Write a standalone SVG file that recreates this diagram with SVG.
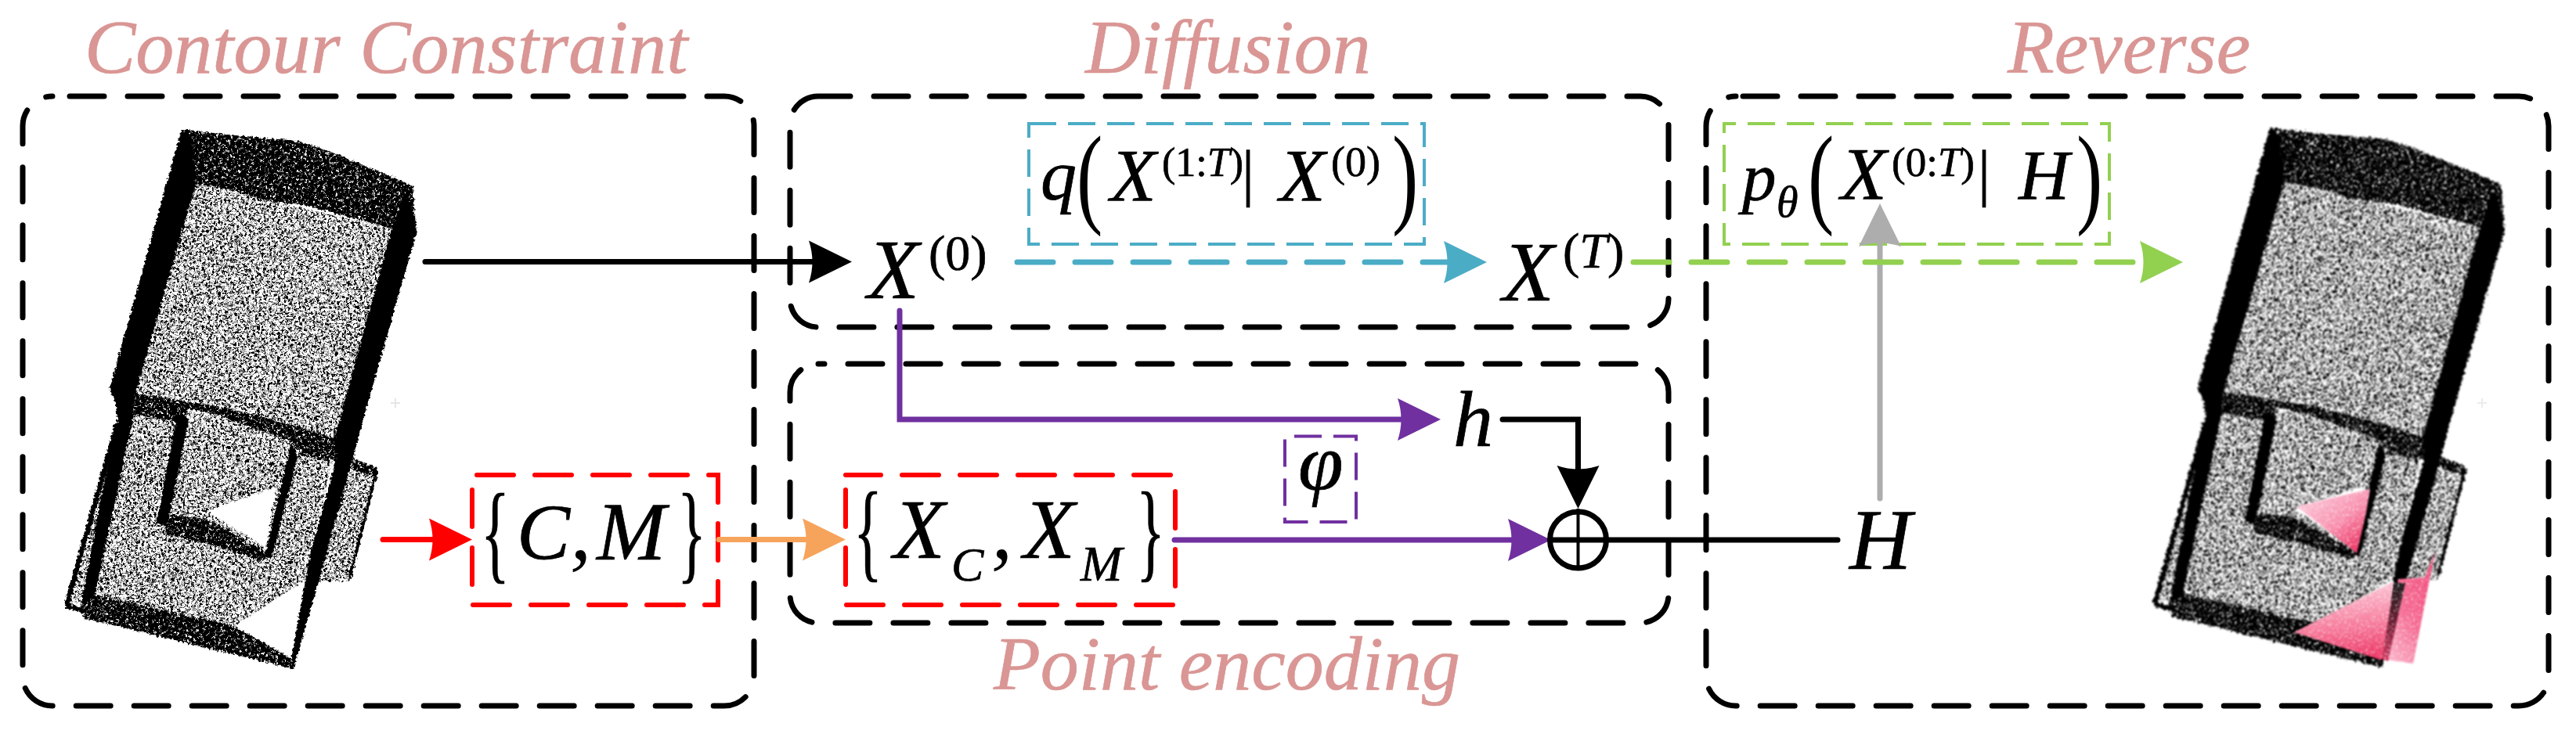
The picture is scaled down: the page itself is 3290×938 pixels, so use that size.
<svg xmlns="http://www.w3.org/2000/svg" xmlns:xlink="http://www.w3.org/1999/xlink" width="3290" height="938" viewBox="0 0 3290 938">
<style>
text{font-family:"Liberation Serif","Times New Roman",serif;font-style:italic;fill:#000;stroke:#000;stroke-width:.7}
.title{font-size:98px;fill:#D99694;stroke:#D99694;stroke-width:.6}
.up{font-style:normal}
.frame{fill:none;stroke:#000;stroke-width:7;stroke-dasharray:44 30;stroke-linecap:round}
.red{fill:none;stroke:#F00;stroke-width:6;stroke-dasharray:47 27;stroke-linecap:round}
.thin{fill:none;stroke-width:4;stroke-dasharray:35 15}
.ln{fill:none;stroke-width:7;stroke-linecap:round}
.dash{stroke-dasharray:46 28}
.k{fill:#000}
.w{fill:#fff}
</style>
<defs>
<filter id="grainL" filterUnits="userSpaceOnUse" x="0" y="100" width="3290" height="800" color-interpolation-filters="sRGB">
<feTurbulence type="fractalNoise" baseFrequency="0.38" numOctaves="1" seed="4" result="n"/>
<feColorMatrix in="n" type="matrix" values="6 0 0 0 -2.25  6 0 0 0 -2.25  6 0 0 0 -2.25  0 0 0 0 1" result="c"/>
<feComposite in="c" in2="SourceAlpha" operator="in"/>
</filter>
<filter id="grainD" filterUnits="userSpaceOnUse" x="0" y="100" width="3290" height="800" color-interpolation-filters="sRGB">
<feTurbulence type="fractalNoise" baseFrequency="0.38" numOctaves="1" seed="9" result="n"/>
<feColorMatrix in="n" type="matrix" values="7 0 0 0 -3.9  7 0 0 0 -3.9  7 0 0 0 -3.9  0 0 0 0 1" result="c"/>
<feComposite in="c" in2="SourceAlpha" operator="in"/>
</filter>
<filter id="rough" filterUnits="userSpaceOnUse" x="0" y="100" width="3290" height="800" color-interpolation-filters="sRGB">
<feTurbulence type="fractalNoise" baseFrequency="0.3" numOctaves="2" seed="2" result="n"/>
<feDisplacementMap in="SourceGraphic" in2="n" scale="6" xChannelSelector="R" yChannelSelector="G"/>
</filter>
<filter id="soft" filterUnits="userSpaceOnUse" x="0" y="100" width="3290" height="800" color-interpolation-filters="sRGB">
<feTurbulence type="fractalNoise" baseFrequency="0.3" numOctaves="2" seed="7" result="n"/>
<feDisplacementMap in="SourceGraphic" in2="n" scale="7" xChannelSelector="R" yChannelSelector="G" result="d"/>
<feGaussianBlur in="d" stdDeviation="0.9"/>
</filter>
<filter id="pinkN" filterUnits="userSpaceOnUse" x="2800" y="500" width="400" height="400" color-interpolation-filters="sRGB">
<feTurbulence type="fractalNoise" baseFrequency="0.4" numOctaves="1" seed="5" result="n"/>
<feColorMatrix in="n" type="matrix" values="0 0 0 0 1  0 0 0 0 1  0 0 0 0 1  3 0 0 0 -1.6" result="c"/>
<feComposite in="c" in2="SourceAlpha" operator="in" result="s"/>
<feMerge result="m"><feMergeNode in="SourceGraphic"/><feMergeNode in="s"/></feMerge>
<feGaussianBlur in="m" stdDeviation="1.2"/>
</filter>
<linearGradient id="pk1" x1="0.1" y1="0.2" x2="0.75" y2="0.95"><stop offset="0" stop-color="#fbc6d6"/><stop offset="0.55" stop-color="#f88fae"/><stop offset="1" stop-color="#ec3a68"/></linearGradient>
<linearGradient id="pk2" x1="0.55" y1="0.05" x2="0.7" y2="1"><stop offset="0" stop-color="#fbc6d6"/><stop offset="0.5" stop-color="#f7809f"/><stop offset="1" stop-color="#ec3565"/></linearGradient>
<linearGradient id="pk3" x1="0.9" y1="0" x2="0.2" y2="1"><stop offset="0" stop-color="#f24a7a"/><stop offset="0.6" stop-color="#f56d94"/><stop offset="1" stop-color="#fab0c6"/></linearGradient>
<linearGradient id="pkB" x1="0" y1="0" x2="0" y2="1"><stop offset="0" stop-color="#1a1a1a"/><stop offset="0.5" stop-color="#6a1a30"/><stop offset="1" stop-color="#d83a64"/></linearGradient>
<marker id="aK" markerUnits="userSpaceOnUse" markerWidth="60" markerHeight="60" refX="6" refY="30" orient="auto" overflow="visible"><path d="M0 3L55 30L0 57Q9 30 0 3Z" fill="#000"/></marker>
<marker id="aR" markerUnits="userSpaceOnUse" markerWidth="60" markerHeight="60" refX="6" refY="30" orient="auto" overflow="visible"><path d="M0 3L55 30L0 57Q9 30 0 3Z" fill="#F00"/></marker>
<marker id="aO" markerUnits="userSpaceOnUse" markerWidth="60" markerHeight="60" refX="6" refY="30" orient="auto" overflow="visible"><path d="M0 3L55 30L0 57Q9 30 0 3Z" fill="#F6A45C"/></marker>
<marker id="aB" markerUnits="userSpaceOnUse" markerWidth="60" markerHeight="60" refX="6" refY="30" orient="auto" overflow="visible"><path d="M0 3L55 30L0 57Q9 30 0 3Z" fill="#4BACC6"/></marker>
<marker id="aG" markerUnits="userSpaceOnUse" markerWidth="60" markerHeight="60" refX="6" refY="30" orient="auto" overflow="visible"><path d="M0 3L55 30L0 57Q9 30 0 3Z" fill="#92D050"/></marker>
<marker id="aP" markerUnits="userSpaceOnUse" markerWidth="60" markerHeight="60" refX="6" refY="30" orient="auto" overflow="visible"><path d="M0 3L55 30L0 57Q9 30 0 3Z" fill="#7030A0"/></marker>
<marker id="aY" markerUnits="userSpaceOnUse" markerWidth="60" markerHeight="60" refX="6" refY="30" orient="auto" overflow="visible"><path d="M0 3L55 30L0 57Q9 30 0 3Z" fill="#ADADAD"/></marker>
<g id="cloud">
<g filter="url(#grainL)">
<polygon points="250,235 500,292 427,562 173,503"/>
<polygon points="170,510 430,565 400,693 390,742 300,800 120,760"/>
<polygon points="87,770 147,540 160,545 105,770"/>
<polygon points="450,585 480,597 447,743 407,743"/>
</g>
<g filter="url(#grainD)">
<path d="M232 165L290 172L380 180L420 193L527 237L532 297L500 292L393 263L343 257L293 243L250 235Z"/>
<polygon points="120,760 300,800 372,842 375,855 107,790 103,773"/>
<polygon points="173,503 293,522 380,545 427,560 432,590 385,583 375,565 290,535 240,522 235,540 170,530"/>
<polygon points="450,585 480,597 482,610 450,600"/>
<polygon points="207,657 260,662 343,707 337,717 273,697 213,683"/>
</g>
<polygon class="w" points="263,653 352,623 340,700"/>
<polygon class="w" points="300,800 388,742 372,842"/>
<polygon class="k" points="232,165 140,497 148,517 150,537 128,640 104,772 120,765 170,533 173,503 250,235 245,175"/>
<polygon class="k" points="147,540 82,772 88,774 152,545"/>
<polygon class="k" points="84,770 110,778 108,784 84,777"/>
<polygon class="k" points="520,240 532,297 460,550 451,585 407,743 375,855 372,842 390,742 400,693 430,585 427,562 500,292"/>
<polygon class="k" points="226,530 241,535 218,650 212,672 200,668"/>
<polygon class="k" points="372,565 380,585 349,705 345,716 339,708"/>
<polygon class="k" points="480,598 483,602 449,738 445,738"/>
</g>
</defs>
<rect width="3290" height="938" fill="#fff"/>

<g id="titles">
<text class="title" x="108" y="93">Contour Constraint</text>
<text class="title" x="1386" y="93">Diffusion</text>
<text class="title" x="1269" y="881">Point encoding</text>
<text class="title" x="2564" y="93">Reverse</text>
</g>

<g id="contour-constraint">
<rect class="frame" x="29" y="123" width="934" height="779" rx="38" stroke-dashoffset="52"/>
</g>
<g id="diffusion">
<rect class="frame" x="1009" y="123" width="1122" height="295" rx="36" stroke-dashoffset="3"/>
</g>
<g id="point-encoding">
<rect class="frame" x="1009" y="465" width="1122" height="331" rx="36" stroke-dashoffset="36"/>
</g>
<g id="reverse">
<rect class="frame" x="2179" y="123" width="1076" height="779" rx="38" stroke-dashoffset="65"/>
</g>

<g id="input-cloud">
<g filter="url(#rough)"><use href="#cloud"/></g>
<path d="M505 509V521M499 515H511" stroke="#e6e6e6" stroke-width="2" fill="none"/>
</g>

<g id="output-cloud">
<g filter="url(#soft)"><use href="#cloud" transform="translate(2667,-2)"/></g>
<g filter="url(#pinkN)">
<polygon points="2933,647 3027,625 3022,655 3010,707" fill="url(#pk1)"/>
<polygon points="2930,808 3057,743 3045,842 3040,843" fill="url(#pk2)"/>
<polygon points="3110,705 3082,848 3047,843 3063,740 3097,738" fill="url(#pk3)"/>
<polygon points="3058,745 3072,745 3050,845 3042,842" fill="url(#pkB)"/>
</g>
<path d="M3170 509V521M3164 515H3176" stroke="#ececec" stroke-width="2" fill="none"/>
</g>

<g id="cm-set">
<rect class="red" x="603" y="607" width="314" height="166" stroke-dashoffset="68"/>
<text class="up" transform="translate(614,727) scale(.55,1)" font-size="140">{</text>
<text x="660" y="715" font-size="102">C</text>
<text x="728" y="714" font-size="110" style="stroke-width:0">,</text>
<text x="762" y="715" font-size="106">M</text>
<text class="up" transform="translate(865,727) scale(.55,1)" font-size="140">}</text>
</g>

<g id="xc-xm-set">
<rect class="red" x="1080" y="607" width="421" height="166" stroke-dashoffset="2"/>
<text class="up" transform="translate(1090,725) scale(.55,1)" font-size="140">{</text>
<text x="1141" y="713" font-size="108">X</text>
<text x="1215" y="742" font-size="62">C</text>
<text x="1266" y="713" font-size="110" style="stroke-width:0">,</text>
<text x="1307" y="713" font-size="108">X</text>
<text x="1380" y="742" font-size="64">M</text>
<text class="up" transform="translate(1451,725) scale(.55,1)" font-size="140">}</text>
</g>

<g id="x0">
<text x="1108" y="381" font-size="108">X</text>
<text x="1186" y="345" font-size="64"><tspan class="up">(0)</tspan></text>
</g>

<g id="xt">
<text x="1919" y="384" font-size="108">X</text>
<text x="1996" y="342" font-size="64"><tspan class="up">(</tspan>T<tspan class="up">)</tspan></text>
</g>

<g id="q-formula">
<rect class="thin" x="1314" y="158" width="505" height="154" stroke="#4BACC6" stroke-dashoffset="0"/>
<text x="1329" y="255" font-size="92">q</text>
<text class="up" transform="translate(1375,272) scale(.7,1)" font-size="143" style="stroke-width:0">(</text>
<text x="1418" y="257" font-size="96">X</text>
<text x="1484" y="225" font-size="52"><tspan class="up">(1:</tspan>T<tspan class="up">)</tspan></text>
<text class="up" x="1586" y="248" font-size="80">|</text>
<text x="1634" y="257" font-size="96">X</text>
<text x="1700" y="225" font-size="54"><tspan class="up">(0)</tspan></text>
<text class="up" transform="translate(1778,272) scale(.7,1)" font-size="143" style="stroke-width:0">)</text>
</g>

<g id="p-formula">
<rect class="thin" x="2202" y="158" width="492" height="154" stroke="#92D050" stroke-dashoffset="20"/>
<text x="2225" y="255" font-size="87">p</text>
<text x="2269" y="277" font-size="56">θ</text>
<text class="up" transform="translate(2309,272) scale(.7,1)" font-size="143" style="stroke-width:0">(</text>
<text x="2351" y="255" font-size="96">X</text>
<text x="2416" y="225" font-size="53"><tspan class="up">(0:</tspan>T<tspan class="up">)</tspan></text>
<text class="up" x="2526" y="248" font-size="80">|</text>
<text x="2578" y="255" font-size="90">H</text>
<text class="up" transform="translate(2652,272) scale(.7,1)" font-size="143" style="stroke-width:0">)</text>
</g>

<g id="h-node"><text x="1856" y="570" font-size="102">h</text></g>
<g id="H-node"><text x="2362" y="727" font-size="110">H</text></g>
<g id="phi">
<rect class="thin" x="1641" y="557.5" width="91" height="109.5" stroke="#7030A0" stroke-dashoffset="-12"/>
<text x="1658" y="626" font-size="104">φ</text>
</g>

<g id="connectors">
<path class="ln" d="M543 334.5H1039" stroke="#000" marker-end="url(#aK)"/>
<path class="ln" d="M489 689.5H554" stroke="#F00" marker-end="url(#aR)"/>
<path class="ln" d="M918 689.5H1031" stroke="#F6A45C" stroke-linecap="butt" marker-end="url(#aO)"/>
<path class="ln dash" d="M1299 335H1850" stroke="#4BACC6" marker-end="url(#aB)"/>
<path class="ln" d="M2401 637V309" stroke="#ADADAD" marker-end="url(#aY)"/>
<path class="ln dash" d="M2086 335H2739" stroke="#92D050" marker-end="url(#aG)"/>
<path class="ln" d="M1149 397V536H1791" stroke="#7030A0" stroke-linecap="round" marker-end="url(#aP)"/>
<path class="ln" d="M1500 690H1932" stroke="#7030A0" marker-end="url(#aP)"/>
<path class="ln" d="M1919 536H2015.5V601" stroke="#000" marker-end="url(#aK)"/>
<circle cx="2015.5" cy="690" r="36" fill="none" stroke="#000" stroke-width="7"/>
<path d="M2015.5 650V728" stroke="#000" stroke-width="4" fill="none"/>
<path class="ln" d="M1981 690H2347" stroke="#000"/>
</g>
</svg>
